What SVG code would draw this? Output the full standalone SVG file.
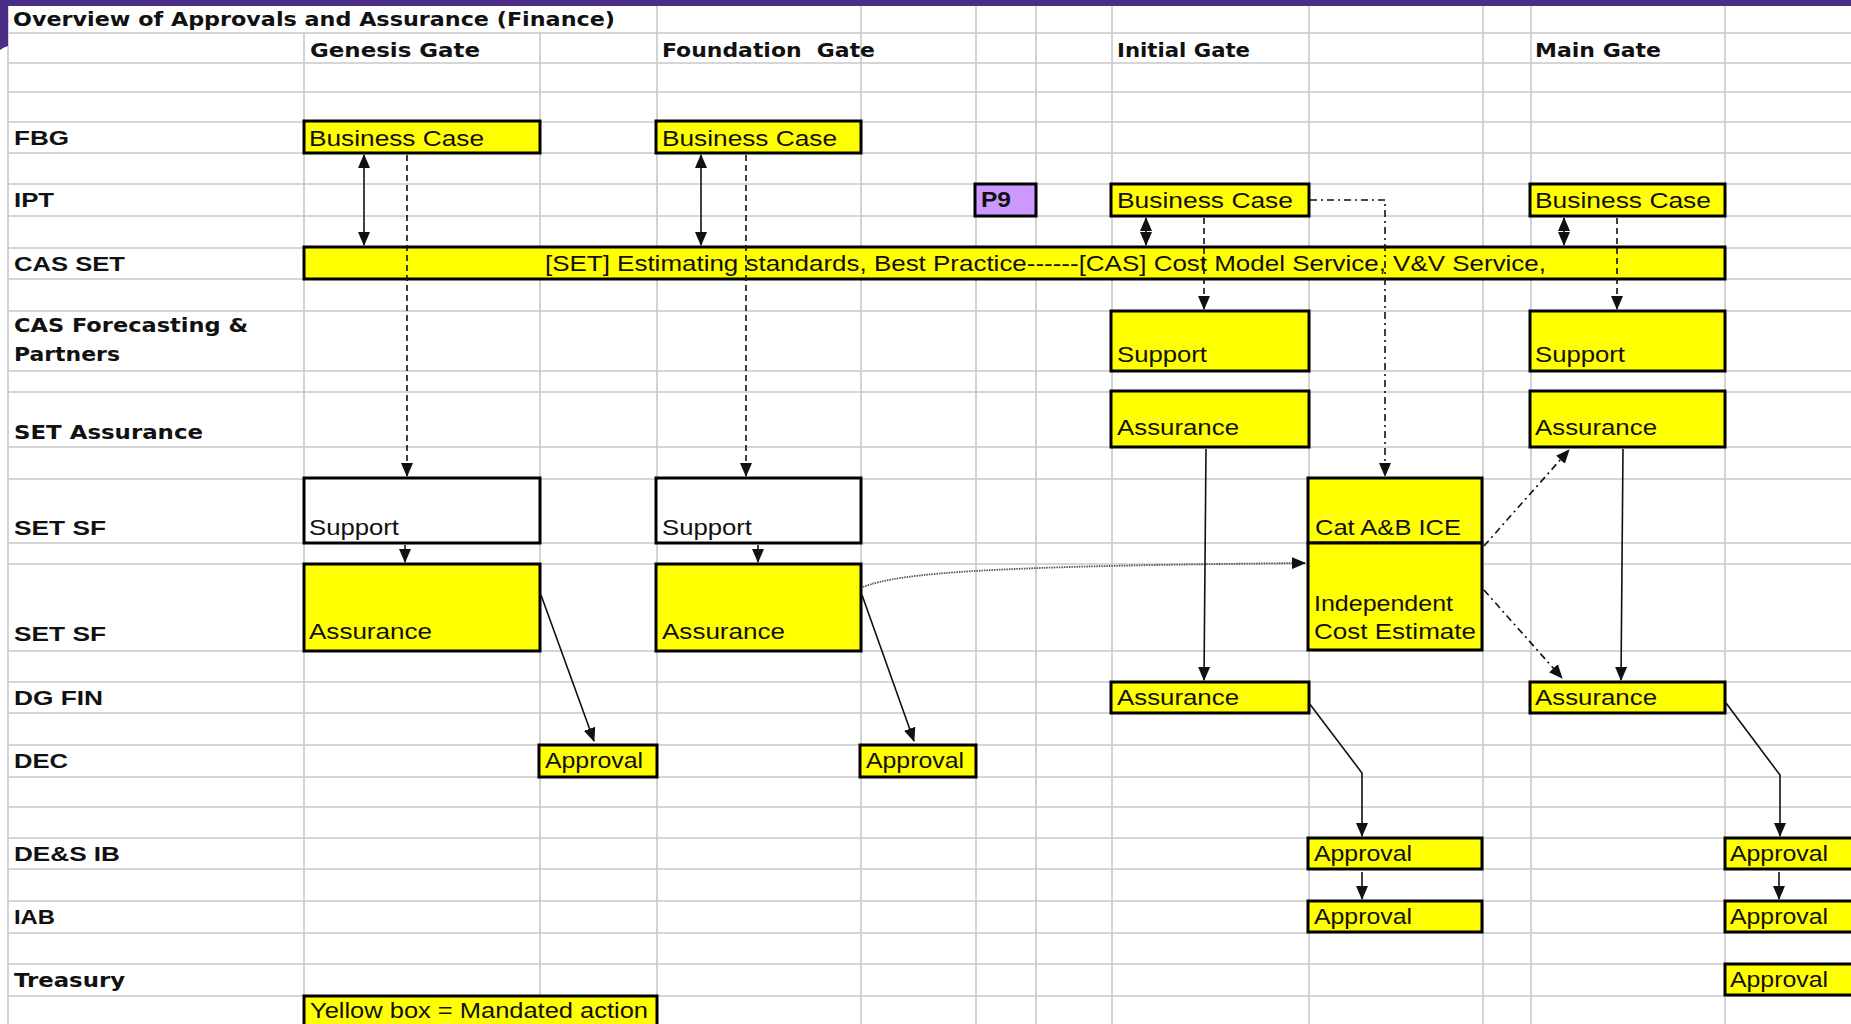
<svg xmlns="http://www.w3.org/2000/svg" width="1851" height="1024" viewBox="0 0 1851 1024">
<style>
.bg{fill:#ffffff}
.grid line{stroke:#c8c8c8;stroke-width:1.6}
.box{fill:#ffff00;stroke:#000;stroke-width:3}
.wbox{fill:#ffffff;stroke:#000;stroke-width:3}
.pbox{fill:#cc99ff;stroke:#000;stroke-width:3}
.lbl{font-family:"DejaVu Sans",Verdana,sans-serif;font-weight:bold;font-size:19.5px;fill:#111}
.lbla{font-family:"Liberation Sans",Arial,sans-serif;font-weight:bold;font-size:21px;fill:#111}
.t{font-family:"Liberation Sans",Arial,sans-serif;font-size:22px;fill:#111}
.tb{font-family:"Liberation Sans",Arial,sans-serif;font-size:22px;font-weight:bold;fill:#111}
.c{fill:none;stroke:#111;stroke-width:1.6}
.dash{stroke-dasharray:6 4}
.dd{stroke-dasharray:7 4 2 4}
.dot{stroke:#555;stroke-dasharray:1.5 1;stroke-width:1.8}
</style>
<defs>
<marker id="ah" markerUnits="userSpaceOnUse" markerWidth="14" markerHeight="12" viewBox="0 0 14 12" refX="13" refY="6" orient="auto-start-reverse">
<path d="M0,0 L14,6 L0,12 z" fill="#111"/>
</marker>
</defs>
<rect class="bg" x="0" y="0" width="1851" height="1024"/>
<g class="grid">
<line x1="8" y1="6" x2="8" y2="1024"/>
<line x1="304" y1="33" x2="304" y2="1024"/>
<line x1="540" y1="33" x2="540" y2="1024"/>
<line x1="657" y1="6" x2="657" y2="1024"/>
<line x1="861" y1="6" x2="861" y2="1024"/>
<line x1="976" y1="6" x2="976" y2="1024"/>
<line x1="1036" y1="6" x2="1036" y2="1024"/>
<line x1="1112" y1="6" x2="1112" y2="1024"/>
<line x1="1309" y1="6" x2="1309" y2="1024"/>
<line x1="1483" y1="6" x2="1483" y2="1024"/>
<line x1="1531" y1="6" x2="1531" y2="1024"/>
<line x1="1725" y1="6" x2="1725" y2="1024"/>
<line x1="8" y1="33" x2="1851" y2="33"/>
<line x1="8" y1="63" x2="1851" y2="63"/>
<line x1="8" y1="92" x2="1851" y2="92"/>
<line x1="8" y1="122" x2="1851" y2="122"/>
<line x1="8" y1="153" x2="1851" y2="153"/>
<line x1="8" y1="184" x2="1851" y2="184"/>
<line x1="8" y1="216" x2="1851" y2="216"/>
<line x1="8" y1="248" x2="1851" y2="248"/>
<line x1="8" y1="279" x2="1851" y2="279"/>
<line x1="8" y1="311" x2="1851" y2="311"/>
<line x1="8" y1="371" x2="1851" y2="371"/>
<line x1="8" y1="392" x2="1851" y2="392"/>
<line x1="8" y1="447" x2="1851" y2="447"/>
<line x1="8" y1="479" x2="1851" y2="479"/>
<line x1="8" y1="543" x2="1851" y2="543"/>
<line x1="8" y1="564" x2="1851" y2="564"/>
<line x1="8" y1="651" x2="1851" y2="651"/>
<line x1="8" y1="682" x2="1851" y2="682"/>
<line x1="8" y1="713" x2="1851" y2="713"/>
<line x1="8" y1="745" x2="1851" y2="745"/>
<line x1="8" y1="777" x2="1851" y2="777"/>
<line x1="8" y1="807" x2="1851" y2="807"/>
<line x1="8" y1="838" x2="1851" y2="838"/>
<line x1="8" y1="869" x2="1851" y2="869"/>
<line x1="8" y1="901" x2="1851" y2="901"/>
<line x1="8" y1="933" x2="1851" y2="933"/>
<line x1="8" y1="964" x2="1851" y2="964"/>
<line x1="8" y1="996" x2="1851" y2="996"/>
</g>
<path d="M0,0 H1851 V6 H8 V46 Q4,47 0,50 Z" fill="#4b2c86"/>
<g id="labels">
<text class="lbl" x="13" y="26" textLength="602" lengthAdjust="spacingAndGlyphs">Overview of Approvals and Assurance (Finance)</text>
<text class="lbl" x="310" y="57" textLength="170" lengthAdjust="spacingAndGlyphs">Genesis Gate</text>
<text class="lbl" x="662" y="57" textLength="213" lengthAdjust="spacingAndGlyphs" xml:space="preserve">Foundation  Gate</text>
<text class="lbl" x="1117" y="57" textLength="133" lengthAdjust="spacingAndGlyphs">Initial Gate</text>
<text class="lbl" x="1535" y="57" textLength="126" lengthAdjust="spacingAndGlyphs">Main Gate</text>
<text class="lbla" x="14" y="145" textLength="55" lengthAdjust="spacingAndGlyphs">FBG</text>
<text class="lbla" x="14" y="207" textLength="40" lengthAdjust="spacingAndGlyphs">IPT</text>
<text class="lbla" x="14" y="271" textLength="111" lengthAdjust="spacingAndGlyphs">CAS SET</text>
<text class="lbl" x="14" y="332" textLength="234" lengthAdjust="spacingAndGlyphs">CAS Forecasting &amp;</text>
<text class="lbl" x="14" y="361" textLength="106" lengthAdjust="spacingAndGlyphs">Partners</text>
<text class="lbl" x="14" y="439" textLength="189" lengthAdjust="spacingAndGlyphs">SET Assurance</text>
<text class="lbla" x="14" y="535" textLength="92" lengthAdjust="spacingAndGlyphs">SET SF</text>
<text class="lbla" x="14" y="641" textLength="92" lengthAdjust="spacingAndGlyphs">SET SF</text>
<text class="lbla" x="14" y="705" textLength="89" lengthAdjust="spacingAndGlyphs">DG FIN</text>
<text class="lbla" x="14" y="768" textLength="54" lengthAdjust="spacingAndGlyphs">DEC</text>
<text class="lbla" x="14" y="861" textLength="106" lengthAdjust="spacingAndGlyphs">DE&amp;S IB</text>
<text class="lbla" x="14" y="924" textLength="41" lengthAdjust="spacingAndGlyphs">IAB</text>
<text class="lbl" x="14" y="987" textLength="111" lengthAdjust="spacingAndGlyphs">Treasury</text>
</g>
<g id="fbg-genesis-bc"><rect class="box" x="304" y="121" width="236" height="32"/><text class="t" x="309" y="146" textLength="175" lengthAdjust="spacingAndGlyphs">Business Case</text></g>
<g id="fbg-foundation-bc"><rect class="box" x="656" y="121" width="205" height="32"/><text class="t" x="662" y="146" textLength="175" lengthAdjust="spacingAndGlyphs">Business Case</text></g>
<g id="p9"><rect class="pbox" x="975" y="184" width="61" height="32"/><text class="tb" x="981" y="207" textLength="30" lengthAdjust="spacingAndGlyphs">P9</text></g>
<g id="ipt-initial-bc"><rect class="box" x="1111" y="184" width="198" height="32"/><text class="t" x="1117" y="208" textLength="176" lengthAdjust="spacingAndGlyphs">Business Case</text></g>
<g id="ipt-main-bc"><rect class="box" x="1530" y="184" width="195" height="32"/><text class="t" x="1535" y="208" textLength="176" lengthAdjust="spacingAndGlyphs">Business Case</text></g>
<g id="cas-set"><rect class="box" x="304" y="247" width="1421" height="32"/><text class="t" x="545" y="271" textLength="1001" lengthAdjust="spacingAndGlyphs">[SET] Estimating standards, Best Practice------[CAS] Cost Model Service, V&amp;V Service,</text></g>
<g id="casf-initial-support"><rect class="box" x="1111" y="311" width="198" height="60"/><text class="t" x="1117" y="362" textLength="90" lengthAdjust="spacingAndGlyphs">Support</text></g>
<g id="casf-main-support"><rect class="box" x="1530" y="311" width="195" height="60"/><text class="t" x="1535" y="362" textLength="90" lengthAdjust="spacingAndGlyphs">Support</text></g>
<g id="seta-initial"><rect class="box" x="1111" y="391" width="198" height="56"/><text class="t" x="1117" y="435" textLength="122" lengthAdjust="spacingAndGlyphs">Assurance</text></g>
<g id="seta-main"><rect class="box" x="1530" y="391" width="195" height="56"/><text class="t" x="1535" y="435" textLength="122" lengthAdjust="spacingAndGlyphs">Assurance</text></g>
<g id="setsf-genesis-support"><rect class="wbox" x="304" y="478" width="236" height="65"/><text class="t" x="309" y="535" textLength="90" lengthAdjust="spacingAndGlyphs">Support</text></g>
<g id="setsf-foundation-support"><rect class="wbox" x="656" y="478" width="205" height="65"/><text class="t" x="662" y="535" textLength="90" lengthAdjust="spacingAndGlyphs">Support</text></g>
<g id="setsf-genesis-assurance"><rect class="box" x="304" y="564" width="236" height="87"/><text class="t" x="309" y="639" textLength="123" lengthAdjust="spacingAndGlyphs">Assurance</text></g>
<g id="setsf-foundation-assurance"><rect class="box" x="656" y="564" width="205" height="87"/><text class="t" x="662" y="639" textLength="123" lengthAdjust="spacingAndGlyphs">Assurance</text></g>
<g id="cat-ice"><rect class="box" x="1308" y="478" width="174" height="65"/><text class="t" x="1315" y="535" textLength="146" lengthAdjust="spacingAndGlyphs">Cat A&amp;B ICE</text></g>
<g id="ice"><rect class="box" x="1308" y="543" width="174" height="107"/><text class="t" x="1314" y="611" textLength="139" lengthAdjust="spacingAndGlyphs">Independent</text><text class="t" x="1314" y="639" textLength="162" lengthAdjust="spacingAndGlyphs">Cost Estimate</text></g>
<g id="dgfin-initial"><rect class="box" x="1111" y="682" width="198" height="31"/><text class="t" x="1117" y="705" textLength="122" lengthAdjust="spacingAndGlyphs">Assurance</text></g>
<g id="dgfin-main"><rect class="box" x="1530" y="682" width="195" height="31"/><text class="t" x="1535" y="705" textLength="122" lengthAdjust="spacingAndGlyphs">Assurance</text></g>
<g id="dec-genesis"><rect class="box" x="539" y="745" width="118" height="32"/><text class="t" x="545" y="768" textLength="98" lengthAdjust="spacingAndGlyphs">Approval</text></g>
<g id="dec-foundation"><rect class="box" x="860" y="745" width="116" height="32"/><text class="t" x="866" y="768" textLength="98" lengthAdjust="spacingAndGlyphs">Approval</text></g>
<g id="desib-initial"><rect class="box" x="1308" y="838" width="174" height="31"/><text class="t" x="1314" y="861" textLength="98" lengthAdjust="spacingAndGlyphs">Approval</text></g>
<g id="iab-initial"><rect class="box" x="1308" y="901" width="174" height="31"/><text class="t" x="1314" y="924" textLength="98" lengthAdjust="spacingAndGlyphs">Approval</text></g>
<g id="desib-main"><rect class="box" x="1725" y="838" width="200" height="31"/><text class="t" x="1730" y="861" textLength="98" lengthAdjust="spacingAndGlyphs">Approval</text></g>
<g id="iab-main"><rect class="box" x="1725" y="901" width="200" height="31"/><text class="t" x="1730" y="924" textLength="98" lengthAdjust="spacingAndGlyphs">Approval</text></g>
<g id="treasury-main"><rect class="box" x="1725" y="964" width="200" height="31"/><text class="t" x="1730" y="987" textLength="98" lengthAdjust="spacingAndGlyphs">Approval</text></g>
<g id="legend"><rect class="box" x="304" y="996" width="353" height="40"/><text class="t" x="310" y="1018" textLength="338" lengthAdjust="spacingAndGlyphs">Yellow box = Mandated action</text></g>
<g id="connectors">
<line class="c" x1="364" y1="155" x2="364" y2="245" marker-start="url(#ah)" marker-end="url(#ah)"/>
<line class="c dash" x1="407" y1="155" x2="407" y2="476" marker-end="url(#ah)"/>
<line class="c" x1="405" y1="545" x2="405" y2="562" marker-end="url(#ah)"/>
<line class="c" x1="541" y1="595" x2="594" y2="741" marker-end="url(#ah)"/>
<line class="c" x1="701" y1="155" x2="701" y2="245" marker-start="url(#ah)" marker-end="url(#ah)"/>
<line class="c dash" x1="746" y1="155" x2="746" y2="476" marker-end="url(#ah)"/>
<line class="c" x1="758" y1="545" x2="758" y2="562" marker-end="url(#ah)"/>
<line class="c" x1="862" y1="595" x2="914" y2="741" marker-end="url(#ah)"/>
<path class="c dot" d="M863,587 C900,572 1000,566 1305,563" marker-end="url(#ah)"/>
<line class="c" x1="1146" y1="218" x2="1146" y2="245" marker-start="url(#ah)" marker-end="url(#ah)"/>
<line class="c dash" x1="1204" y1="218" x2="1204" y2="309" marker-end="url(#ah)"/>
<path class="c dd" d="M1310,200 H1385 V476" marker-end="url(#ah)"/>
<line class="c" x1="1206" y1="449" x2="1204" y2="680" marker-end="url(#ah)"/>
<path class="c" d="M1309,703 L1362,773 L1362,836" marker-end="url(#ah)"/>
<line class="c" x1="1362" y1="872" x2="1362" y2="899" marker-end="url(#ah)"/>
<line class="c dd" x1="1484" y1="546" x2="1569" y2="450" marker-end="url(#ah)"/>
<line class="c dd" x1="1484" y1="590" x2="1562" y2="678" marker-end="url(#ah)"/>
<line class="c" x1="1564" y1="218" x2="1564" y2="245" marker-start="url(#ah)" marker-end="url(#ah)"/>
<line class="c dash" x1="1617" y1="218" x2="1617" y2="309" marker-end="url(#ah)"/>
<line class="c" x1="1623" y1="449" x2="1621" y2="680" marker-end="url(#ah)"/>
<path class="c" d="M1726,703 L1780,775 L1780,836" marker-end="url(#ah)"/>
<line class="c" x1="1779" y1="872" x2="1779" y2="899" marker-end="url(#ah)"/>
</g>
</svg>
